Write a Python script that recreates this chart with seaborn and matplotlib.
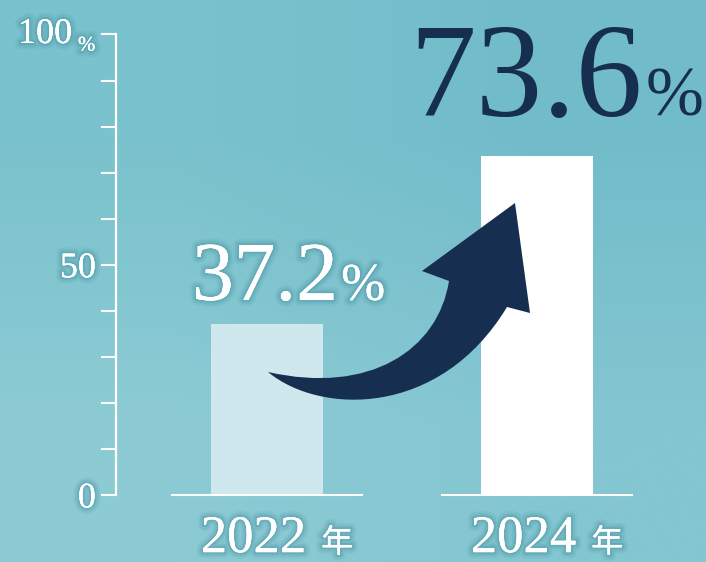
import numpy as np
import matplotlib
matplotlib.use("Agg")
import matplotlib.pyplot as plt
import matplotlib.patheffects as pe
from matplotlib.path import Path
from matplotlib.patches import PathPatch
from matplotlib.transforms import Affine2D
from matplotlib.colors import to_rgb
import seaborn as sns

# data
years = ["2022", "2024"]
rates = [37.2, 73.6]
rate_labels = ["37.2", "73.6"]
bar_colors = ["#cfe8ed", "#ffffff"]
ytick_major = [0, 50, 100]
ytick_minor = [10, 20, 30, 40, 60, 70, 80, 90]

sns.set_style("white")
plt.rcParams["font.family"] = ["Liberation Serif", "Noto Sans CJK JP"]

W, H = 706, 562
fig = plt.figure(figsize=(W / 100, H / 100), dpi=100)

# background gradient
bg = fig.add_axes([0, 0, 1, 1], zorder=-1)
grad = np.array([[to_rgb("#7ac2cd"), to_rgb("#72bcca")],
                 [to_rgb("#8ccbd4"), to_rgb("#84c6d1")]])
bg.imshow(grad, aspect="auto", interpolation="bilinear", extent=[0, 1, 0, 1])
bg.axis("off")

ax = fig.add_axes([116 / W, (H - 495) / H, (W - 116) / W, 460.5 / H])
ax.patch.set_alpha(0)

sns.barplot(x=years, y=rates, hue=years, palette=bar_colors, width=0.415,
            saturation=1, legend=False, ax=ax, zorder=2, linewidth=0)
ax.set_xlim(-0.559, 1.626)
ax.set_ylim(0, 100)
ax.set_xlabel("")
ax.set_ylabel("")

# white base line under each bar
xs = np.arange(len(years))
ax.hlines([0] * len(xs), xs - 0.356, xs + 0.356, color="white", lw=1.5,
          zorder=3, clip_on=False)

for s in ["top", "right", "bottom"]:
    ax.spines[s].set_visible(False)
ax.spines["left"].set_color("white")
ax.spines["left"].set_linewidth(1.6)
ax.spines["left"].set_bounds(0, 100)

glow_c = "#3e8d9b"
glow = [pe.withStroke(linewidth=9, foreground=glow_c, alpha=0.10),
        pe.withStroke(linewidth=6, foreground=glow_c, alpha=0.15),
        pe.withStroke(linewidth=3, foreground=glow_c, alpha=0.25),
        pe.Normal()]

ax.set_xticks([])
ax.set_yticks(ytick_major)
ax.set_yticks(ytick_minor, minor=True)
ax.set_yticklabels(["0", "50", ""])
ax.tick_params(axis="y", which="both", left=True, direction="out",
               length=10.5, width=1.5, color="white", labelcolor="white",
               labelsize=26, pad=4)
for lab in ax.get_yticklabels():
    lab.set_path_effects(glow)
ax.text(-0.722, 100, "100", ha="right", va="center", color="white",
        fontsize=26, path_effects=glow)
ax.text(-0.70, 97.5, "%", ha="left", va="center", color="white",
        fontsize=15, path_effects=glow)

# value labels
lab_x = [0.263, 0.39]
lab_y = [42.4, 82.4]
lab_size = [60, 96]
pct_size = [38, 50]
lab_color = ["white", "#162e50"]
for i in range(len(years)):
    eff = glow if lab_color[i] == "white" else None
    ax.text(xs[i] + lab_x[i], lab_y[i], rate_labels[i], ha="right",
            va="baseline", color=lab_color[i], fontsize=lab_size[i],
            path_effects=eff, zorder=5)
    ax.text(xs[i] + lab_x[i] + 0.012, lab_y[i], "%", ha="left",
            va="baseline", color=lab_color[i], fontsize=pct_size[i],
            path_effects=eff, zorder=5)

# year labels
for i, y in enumerate(years):
    ax.text(xs[i] - 0.05, -12.4, y, ha="center", va="baseline",
            color="white", fontsize=38, path_effects=glow, clip_on=False)
    ax.text(xs[i] + 0.26, -12.4, "年", ha="center", va="baseline",
            color="white", fontsize=23, family="Noto Sans CJK JP",
            path_effects=glow, clip_on=False)

# curved arrow (pixel layout, y down)
verts = [(268, 372),
         (320, 415), (440, 418), (507, 307),
         (530, 313), (515, 203), (422, 271), (449, 281),
         (438, 350), (370, 395), (268, 372),
         (268, 372)]
codes = [Path.MOVETO,
         Path.CURVE4, Path.CURVE4, Path.CURVE4,
         Path.LINETO, Path.LINETO, Path.LINETO, Path.LINETO,
         Path.CURVE4, Path.CURVE4, Path.CURVE4,
         Path.CLOSEPOLY]
px = Affine2D().scale(1 / W, -1 / H).translate(0, 1) + fig.transFigure
ax.add_patch(PathPatch(Path(verts, codes), facecolor="#162e50",
                       edgecolor="none", transform=px, zorder=4,
                       clip_on=False))

fig.savefig("out.png", dpi=100)
